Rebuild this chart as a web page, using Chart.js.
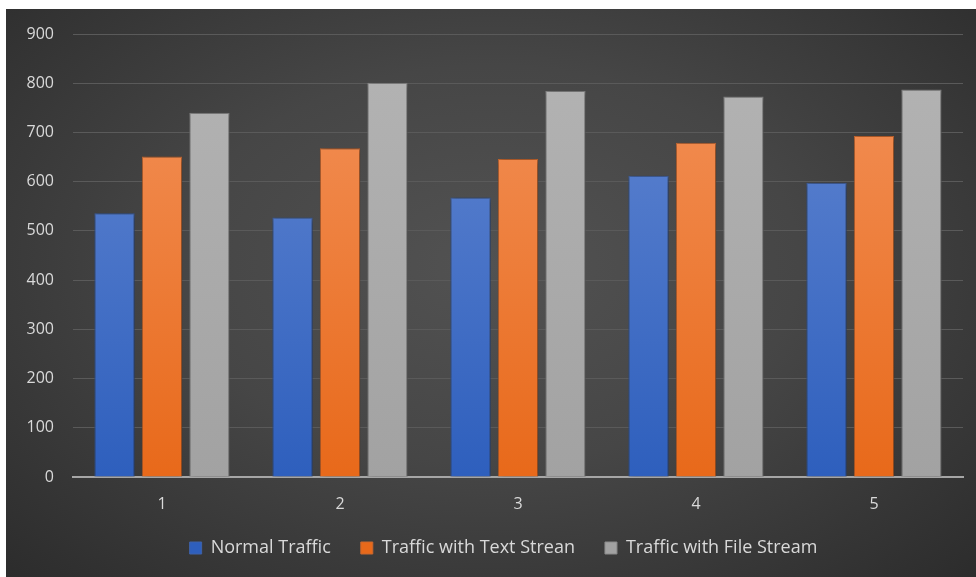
<!DOCTYPE html>
<html>
<head>
<meta charset="utf-8">
<script src="https://cdn.jsdelivr.net/npm/chart.js@4"></script>
<style>
    html, body { margin: 0; padding: 0; background: #ffffff; }
    #wrap {
        position: absolute; left: 6px; top: 9px; width: 970px; height: 568px;
        background: radial-gradient(ellipse at 50% 45%, #525252 0%, #464646 45%, #2c2c2c 100%);
    }
    #chart { display: block; }
</style>
</head>
<body>
<div id="wrap"><canvas id="chart" width="970" height="568"></canvas></div>
<script>
'use strict';

var categories = ['1', '2', '3', '4', '5'];
var normalTraffic = [536, 527, 568, 612, 598];
var textStream = [651, 668, 646, 679, 693];
var fileStream = [740, 801, 784, 773, 787];
var seriesNames = ['Normal Traffic', 'Traffic with Text Strean', 'Traffic with File Stream'];

function verticalFill(top, bottom) {
    return function(context) {
        var area = context.chart.chartArea;
        if (!area) {
            return top;
        }
        var g = context.chart.ctx.createLinearGradient(0, area.top, 0, area.bottom);
        g.addColorStop(0, top);
        g.addColorStop(1, bottom);
        return g;
    };
}

var barShadow = {
    id: 'barShadow',
    beforeDatasetsDraw: function(chart) {
        var ctx = chart.ctx;
        ctx.save();
        ctx.shadowColor = 'rgba(0,0,0,0.55)';
        ctx.shadowBlur = 6;
        ctx.shadowOffsetX = 1;
        ctx.shadowOffsetY = 1;
    },
    afterDatasetsDraw: function(chart) {
        chart.ctx.restore();
    }
};

// the legend sits a little right of centre in the original
var legendShift = {
    id: 'legendShift',
    afterLayout: function(chart) {
        chart.legend.left += 19;
        chart.legend.right += 19;
    }
};

var ctx = document.getElementById('chart').getContext('2d');
new Chart(ctx, {
    type: 'bar',
    data: {
        labels: categories,
        datasets: [{
            label: seriesNames[0],
            data: normalTraffic,
            backgroundColor: verticalFill('#6488d2', '#2e5fbd'),
            borderColor: '#3f63a8',
            borderWidth: 1
        }, {
            label: seriesNames[1],
            data: textStream,
            backgroundColor: verticalFill('#f3935c', '#e8691a'),
            borderColor: '#c9682f',
            borderWidth: 1
        }, {
            label: seriesNames[2],
            data: fileStream,
            backgroundColor: verticalFill('#b4b4b4', '#a2a2a2'),
            borderColor: '#8a8a8a',
            borderWidth: 1
        }]
    },
    options: {
        responsive: false,
        animation: false,
        layout: { padding: { top: 8, right: 13, left: 0, bottom: 10 } },
        datasets: {
            bar: { categoryPercentage: 0.8, barPercentage: 0.85 }
        },
        plugins: {
            tooltip: { enabled: false },
            legend: {
                position: 'bottom',
                labels: {
                    color: '#d9d9d9',
                    font: { family: 'Open Sans', size: 18 },
                    boxWidth: 12,
                    boxHeight: 12,
                    padding: 30
                }
            }
        },
        scales: {
            x: {
                afterFit: function(scale) { scale.height = 32; },
                grid: { display: false },
                border: { color: '#a6a6a6', width: 2 },
                ticks: {
                    color: '#d9d9d9',
                    font: { family: 'Open Sans', size: 16 },
                    padding: 10
                }
            },
            y: {
                min: 0,
                max: 900,
                afterFit: function(scale) { scale.width = 67; },
                grid: { color: '#5a5a5a', lineWidth: 1, drawTicks: false },
                border: { display: false },
                ticks: {
                    stepSize: 100,
                    color: '#d9d9d9',
                    font: { family: 'Open Sans', size: 16, lineHeight: 0.75 },
                    padding: 19
                }
            }
        }
    },
    plugins: [barShadow, legendShift]
});
</script>
</body>
</html>
